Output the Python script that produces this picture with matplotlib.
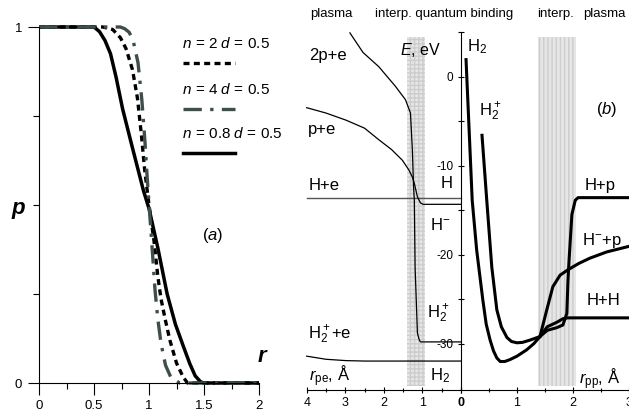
import matplotlib
matplotlib.use("Agg")
import matplotlib.pyplot as plt
from matplotlib.ticker import FixedLocator

plt.rcParams['font.family'] = ['Liberation Sans', 'DejaVu Sans']
plt.rcParams['mathtext.fontset'] = 'custom'
plt.rcParams['mathtext.rm'] = 'Liberation Sans'
plt.rcParams['mathtext.it'] = 'Liberation Sans:italic'
plt.rcParams['mathtext.bf'] = 'Liberation Sans:bold'
plt.rcParams['axes.unicode_minus'] = False
plt.rcParams['axes.linewidth'] = 0.8

# ---- panel (a): p(r) ----
r_n08 = [0, 0.5, 0.55, 0.6, 0.65, 0.7, 0.76, 0.85, 0.95, 1.0, 1.08, 1.165, 1.24, 1.31, 1.37, 1.42, 1.47, 1.5, 2.0]
p_n08 = [1, 1, 0.987, 0.962, 0.925, 0.86, 0.77, 0.66, 0.54, 0.49, 0.38, 0.25, 0.165, 0.105, 0.055, 0.02, 0.003, 0, 0]

r_n2 = [0, 0.58, 0.67, 0.74, 0.79, 0.85, 0.895, 0.93, 0.96, 1.0, 1.045, 1.08, 1.11, 1.15, 1.19, 1.25, 1.31, 1.35, 2.0]
p_n2 = [1, 1, 0.993, 0.97, 0.94, 0.88, 0.8, 0.7, 0.6, 0.5, 0.4, 0.3, 0.235, 0.175, 0.12, 0.056, 0.017, 0, 0]

r_n4 = [0, 0.74, 0.78, 0.82, 0.855, 0.90, 0.935, 0.964, 0.985, 1.01, 1.035, 1.055, 1.08, 1.11, 1.15, 1.2, 1.28, 2.0]
p_n4 = [1, 1, 0.995, 0.985, 0.963, 0.90, 0.795, 0.674, 0.57, 0.46, 0.35, 0.26, 0.18, 0.11, 0.05, 0.015, 0, 0]

legend_labels = [r'$n\,{=}\,2\;d\,{=}\,0.5$', r'$n\,{=}\,4\;d\,{=}\,0.5$', r'$n\,{=}\,0.8\;d\,{=}\,0.5$']

# ---- panel (b): energies vs r_pe (left) and r_pp (right) ----
rpe_2pe = [2.88, 2.54, 2.13, 1.70, 1.44, 1.31, 1.26, 1.23, 1.21, 1.19, 1.13, 1.08, 1.05, 0.0]
E_2pe = [4.9, 2.7, 1.1, -1.1, -2.6, -4.1, -8.3, -12.4, -13.9, -21.4, -28.8, -29.6, -29.8, -29.8]

rpe_pe = [4.0, 3.5, 2.98, 2.5, 2.13, 1.8, 1.52, 1.35, 1.26, 1.21, 1.13, 1.05, 0.98, 0.0]
E_pe = [-3.5, -4.1, -4.9, -5.8, -7.1, -8.2, -9.4, -10.5, -11.3, -12.0, -13.5, -14.2, -14.35, -14.35]

rpe_He = [4.0, 0.0]
E_He = [-13.6, -13.6]

rpe_H2pe = [4.0, 3.5, 2.98, 2.5, 0.0]
E_H2pe = [-31.4, -31.75, -31.9, -31.95, -31.95]

rpp_H2 = [0.09, 0.2, 0.28, 0.39, 0.45, 0.52, 0.58, 0.64, 0.7, 0.78, 0.87, 1.0, 1.17, 1.3, 1.41, 1.54, 1.71, 1.82, 1.9, 3.0]
E_H2 = [1.9, -13.9, -19.5, -25.1, -27.8, -29.6, -30.8, -31.6, -32.0, -32.0, -31.8, -31.4, -30.7, -30.0, -29.2, -28.1, -27.6, -27.2, -27.1, -27.1]

rpp_H2p = [0.375, 0.46, 0.55, 0.64, 0.72, 0.82, 0.9, 1.0, 1.1, 1.23, 1.41, 1.54, 1.71, 1.82, 1.89, 1.91, 1.93, 1.98, 2.04, 2.09, 3.0]
E_H2p = [-6.6, -13.9, -21.4, -26.2, -28.1, -29.3, -29.75, -29.9, -29.85, -29.6, -29.2, -28.5, -28.2, -27.9, -26.6, -22.9, -20.6, -15.5, -13.9, -13.6, -13.6]

rpp_Hmp = [1.41, 1.54, 1.64, 1.77, 1.91, 2.1, 2.3, 2.6, 2.98]
E_Hmp = [-29.2, -26.0, -23.6, -22.3, -21.7, -21.0, -20.4, -19.7, -19.1]

fig = plt.figure(figsize=(6.29, 4.19), dpi=100)
W, H = 629.0, 419.0

# ================= panel (a) =================
ax = fig.add_axes([39 / W, 36 / H, 220 / W, 356 / H])
ax.plot(r_n08, p_n08, color='black', lw=2.5, clip_on=False, solid_capstyle='butt')
ax.plot(r_n2, p_n2, color='black', lw=2.4, ls=(0, (1.8, 1.3)), clip_on=False)
ax.plot(r_n4, p_n4, color='#3f4d4d', lw=2.4, ls=(0, (5.5, 2.5, 1, 2.5)), clip_on=False)
ax.set_xlim(0, 2)
ax.set_ylim(0, 1)
for s in ['top', 'right']:
    ax.spines[s].set_visible(False)
ax.xaxis.set_major_locator(FixedLocator([0, 0.5, 1, 1.5, 2]))
ax.xaxis.set_minor_locator(FixedLocator([0.25, 0.75, 1.25, 1.75]))
ax.set_xticklabels(['0', '0.5', '1', '1.5', '2'])
ax.yaxis.set_major_locator(FixedLocator([0, 1]))
ax.yaxis.set_minor_locator(FixedLocator([0.25, 0.5, 0.75]))
ax.set_yticklabels(['0', '1'])
ax.tick_params(axis='x', which='major', length=8.5, width=0.8, labelsize=9.5, pad=4)
ax.tick_params(axis='x', which='minor', length=4.3, width=0.8)
ax.tick_params(axis='y', which='major', length=8, width=0.8, labelsize=9.5, pad=4)
ax.tick_params(axis='y', which='minor', length=4.3, width=0.8)

ax.text(-0.19, 0.49, 'p', fontsize=16, fontweight='bold', style='italic', ha='center', va='center')
ax.text(2.03, 0.075, 'r', fontsize=16, fontweight='bold', style='italic', ha='center', va='center')
ax.text(1.58, 0.415, r'($a$)', fontsize=12, ha='center', va='center')

# legend: label above its line sample
styles = [dict(color='black', lw=2.4, ls=(0, (1.8, 1.3))),
          dict(color='#3f4d4d', lw=2.4, ls=(0, (5.5, 2.5, 1, 2.5))),
          dict(color='black', lw=2.5)]
leg_y = [0.955, 0.825, 0.70]
for lab, st, yy in zip(legend_labels, styles, leg_y):
    ax.text(0.65, yy, lab, transform=ax.transAxes, fontsize=11, ha='left', va='center')
    ax.plot([0.655, 0.89], [yy - 0.055, yy - 0.055], transform=ax.transAxes, clip_on=False, **st)

# ================= panel (b) =================
ylo, yhi = -35.2, 5.0
x0 = 461.0
axl = fig.add_axes([306.7 / W, 29 / H, (x0 - 306.7) / W, 358 / H])
axr = fig.add_axes([x0 / W, 29 / H, (629 - x0) / W, 358 / H])
axl.set_xlim(4, 0)
axr.set_xlim(0, 3)
for a in (axl, axr):
    a.set_ylim(ylo, yhi)
    a.patch.set_alpha(0)
    a.spines['top'].set_visible(False)
    a.spines['right'].set_visible(False)
axl.spines['left'].set_visible(False)
axl.set_yticks([])

# interpolation bands
axl.fill_between([0.93, 1.41], -34.75, 4.4, facecolor='#e6e6e6', edgecolor='#cdcdcd',
                 linewidth=0, hatch='++++', zorder=0)
axr.fill_between([1.375, 2.05], -34.75, 4.4, facecolor='#e6e6e6', edgecolor='#cdcdcd',
                 linewidth=0, hatch='||||', zorder=0)

axl.plot(rpe_He, E_He, color='#555555', lw=1.0, clip_on=False)
axl.plot(rpe_2pe, E_2pe, color='black', lw=0.9, clip_on=False)
axl.plot(rpe_pe, E_pe, color='black', lw=0.9, clip_on=False)
axl.plot(rpe_H2pe, E_H2pe, color='black', lw=0.9, clip_on=False)

axr.plot(rpp_H2, E_H2, color='black', lw=2.2)
axr.plot(rpp_H2p, E_H2p, color='black', lw=2.2)
axr.plot(rpp_Hmp, E_Hmp, color='black', lw=2.2)

axl.xaxis.set_major_locator(FixedLocator([4, 3, 2, 1, 0]))
axl.xaxis.set_minor_locator(FixedLocator([3.5, 2.5, 1.5, 0.5]))
axl.set_xticklabels(['4', '3', '2', '1', ''])
axr.xaxis.set_major_locator(FixedLocator([0, 1, 2, 3]))
axr.xaxis.set_minor_locator(FixedLocator([0.5, 1.5, 2.5]))
axr.set_xticklabels(['0', '1', '2', '3'])
axr.get_xticklabels()[0].set_fontweight('bold')
for a in (axl, axr):
    a.tick_params(axis='x', which='major', length=4.5, width=0.8, labelsize=9, pad=3, direction='inout')
    a.tick_params(axis='x', which='minor', length=3.5, width=0.8, direction='inout')

axr.yaxis.set_major_locator(FixedLocator([0, -10, -20, -30]))
axr.yaxis.set_minor_locator(FixedLocator([5, -5, -15, -25]))
axr.set_yticklabels(['0', '-10', '-20', '-30'])
axr.tick_params(axis='y', which='both', length=5, width=0.8, labelsize=8.5, pad=3, direction='inout')

# labels, left part (r_pe)
axl.text(3.93, 2.4, '2p+e', fontsize=12, ha='left', va='center')
axl.text(3.96, -6.0, 'p+e', fontsize=12, ha='left', va='center')
axl.text(3.96, -12.2, 'H+e', fontsize=12, ha='left', va='center')
axl.text(0.36, -12.0, 'H', fontsize=12, ha='center', va='center')
axl.text(0.54, -16.7, r'H$^{-}$', fontsize=12, ha='center', va='center')
axl.text(0.59, -26.6, r'H$_2^+$', fontsize=12, ha='center', va='center')
axl.text(3.96, -29.0, r'H$_2^+$+e', fontsize=12, ha='left', va='center')
axl.text(3.94, -33.6, r'$r_{\rm pe}$, Å', fontsize=12, ha='left', va='center')
axl.text(0.54, -33.6, r'H$_2$', fontsize=12, ha='center', va='center')
axl.text(1.05, 3.0, r'$E$, eV', fontsize=11.5, ha='center', va='center')

# labels, right part (r_pp)
axr.text(0.11, 3.4, r'H$_2$', fontsize=12, ha='left', va='center')
axr.text(0.33, -3.9, r'H$_2^+$', fontsize=12, ha='left', va='center')
axr.text(2.6, -3.7, r'($b$)', fontsize=12, ha='center', va='center')
axr.text(2.48, -12.2, 'H+p', fontsize=12, ha='center', va='center')
axr.text(2.52, -18.4, r'H$^{-}$+p', fontsize=12, ha='center', va='center')
axr.text(2.54, -25.1, 'H+H', fontsize=12, ha='center', va='center')
axr.text(2.48, -34.0, r'$r_{\rm pp}$, Å', fontsize=12, ha='center', va='center')

# region headers
hy = 1 - 14 / H
fig.text(331 / W, hy, 'plasma', fontsize=9.5, ha='center', va='center')
fig.text(375 / W, hy, 'interp. quantum binding', fontsize=9.5, ha='left', va='center')
fig.text(555 / W, hy, 'interp.', fontsize=9.5, ha='center', va='center')
fig.text(604 / W, hy, 'plasma', fontsize=9.5, ha='center', va='center')

fig.savefig('out.png', dpi=100)
